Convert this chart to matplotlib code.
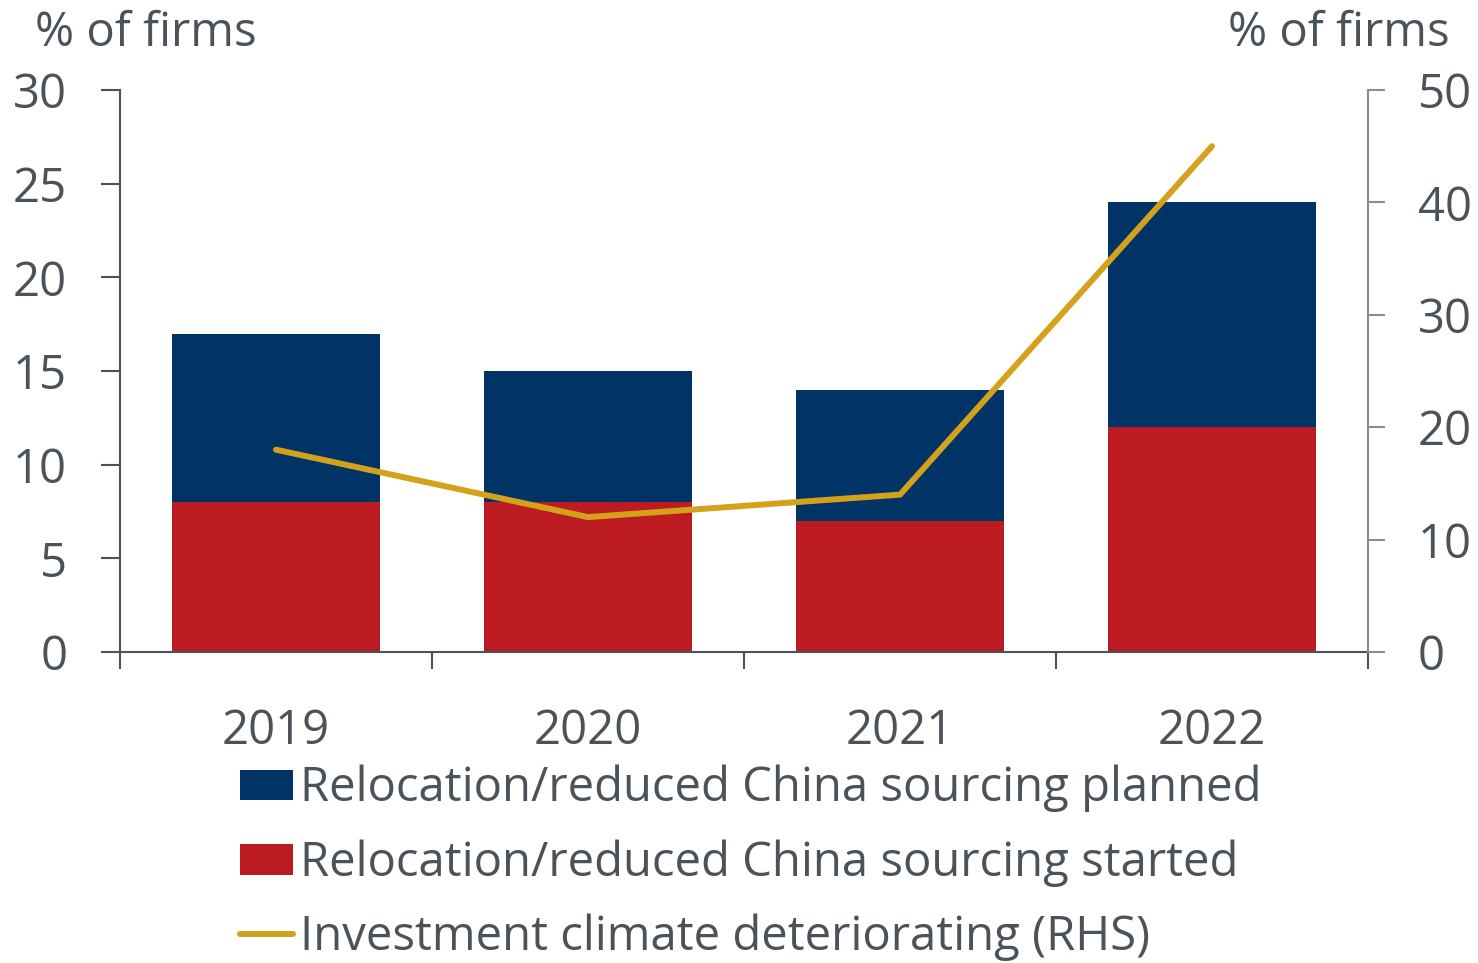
import matplotlib
matplotlib.use("Agg")
import matplotlib.pyplot as plt
from matplotlib.patches import Patch
from matplotlib.lines import Line2D
import numpy as np

# Survey data
years = ["2019", "2020", "2021", "2022"]
started = [8, 8, 7, 12]          # % of firms, relocation/reduced China sourcing started
planned = [9, 7, 7, 12]          # % of firms, planned (stacked on top of started)
climate = [18, 12, 14, 45]       # % of firms, investment climate deteriorating (RHS)

left_ticks = [0, 5, 10, 15, 20, 25, 30]
right_ticks = [0, 10, 20, 30, 40, 50]

NAVY = "#003366"
RED = "#BC1B22"
GOLD = "#D4A21A"
TEXT = "#4A525A"
RSPINE = "#8C8C8C"

plt.rcParams["font.family"] = ["Open Sans", "DejaVu Sans"]

fig = plt.figure(figsize=(14.78, 9.63), dpi=100)
ax = fig.add_axes([120 / 1478, 1 - 652 / 963, (1368 - 120) / 1478, (652 - 90) / 963])

x = np.arange(len(years))
width = 0.667
ax.bar(x, started, width, color=RED, zorder=2)
ax.bar(x, planned, width, bottom=started, color=NAVY, zorder=2)

ax.set_xlim(-0.5, len(years) - 0.5)
ax.set_ylim(0, 30)
ax.set_yticks(left_ticks)

ax2 = ax.twinx()
ax2.plot(x, climate, color=GOLD, lw=4.3, solid_capstyle="round", zorder=3)
ax2.set_ylim(0, 50)
ax2.set_yticks(right_ticks)
ax2.set_xlim(-0.5, len(years) - 0.5)

FS = 34
# Category labels centred, tick marks at category boundaries
ax.set_xticks(x)
ax.set_xticklabels(years)
ax.set_xticks(np.arange(-0.5, len(years)), minor=True)
ax.tick_params(axis="x", which="major", length=0, pad=40, labelsize=FS, labelcolor=TEXT)
ax.tick_params(axis="x", which="minor", length=12, width=1.5, color=TEXT, direction="out")
ax.tick_params(axis="y", length=14, width=1.5, color=TEXT, pad=24, labelsize=FS, labelcolor=TEXT)
ax2.tick_params(axis="y", length=12, width=1.5, color=RSPINE, pad=24, labelsize=FS, labelcolor=TEXT)

for s in ("top", "right"):
    ax.spines[s].set_visible(False)
ax.spines["left"].set_color(TEXT)
ax.spines["bottom"].set_color(TEXT)
ax.spines["left"].set_linewidth(1.5)
ax.spines["bottom"].set_linewidth(1.5)
for s in ("top", "left", "bottom"):
    ax2.spines[s].set_visible(False)
ax2.spines["right"].set_color(RSPINE)
ax2.spines["right"].set_linewidth(1.5)

fig.text(35 / 1478, 1 - 46 / 963, "% of firms", fontsize=FS, color=TEXT, ha="left", va="baseline")
fig.text(1450 / 1478, 1 - 46 / 963, "% of firms", fontsize=FS, color=TEXT, ha="right", va="baseline")

handles = [
    Patch(facecolor=NAVY, edgecolor="none"),
    Patch(facecolor=RED, edgecolor="none"),
    Line2D([0], [0], color=GOLD, lw=4.3, solid_capstyle="round"),
]
labels = [
    "Relocation/reduced China sourcing planned",
    "Relocation/reduced China sourcing started",
    "Investment climate deteriorating (RHS)",
]
fig.legend(handles, labels, loc="upper left", bbox_to_anchor=(240 / 1478, 1 - 765 / 963),
           frameon=False, fontsize=34, labelcolor=TEXT, borderpad=0, borderaxespad=0,
           handlelength=1.13, handleheight=0.62, handletextpad=0.15, labelspacing=0.57)

fig.savefig("out.png", dpi=100, facecolor="white")
